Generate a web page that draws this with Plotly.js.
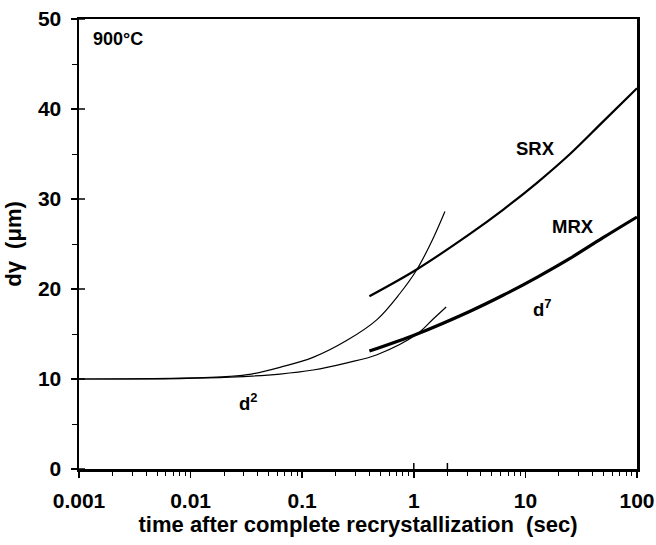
<!DOCTYPE html>
<html>
<head>
<meta charset="utf-8">
<script src="https://cdn.plot.ly/plotly-3.0.1.min.js"></script>
<style>html,body{margin:0;padding:0;background:#fff;}#chart{width:656px;height:545px;}</style>
</head>
<body>
<div id="chart"></div>
<script>
// Tick labels
const xTickVals = [0.001, 0.01, 0.1, 1, 10, 100];
const xTickText = ['0.001', '0.01', '0.1', '1', '10', '100'];
const yTickVals = [0, 10, 20, 30, 40, 50];

// d^2 growth curve (thin, upper)
const tD2 = [0.001, 0.008, 0.0225, 0.035, 0.0632, 0.125, 0.252, 0.468, 0.75, 1.07, 1.5, 1.9];
const dD2 = [10.0, 10.1, 10.3, 10.55, 11.3, 12.4, 14.3, 16.6, 19.5, 22.2, 25.7, 28.6];

// d^7 growth curve (thin, lower)
const tD7 = [0.001, 0.008, 0.0225, 0.0632, 0.125, 0.252, 0.468, 1.07, 1.5, 1.95];
const dD7 = [10.0, 10.05, 10.2, 10.55, 11.0, 11.8, 12.7, 15.0, 16.7, 18.0];

// SRX curve
const tSRX = [0.40, 1.07, 3.16, 6.3, 12.7, 25.1, 49.6, 100];
const dSRX = [19.2, 22.2, 26.1, 28.8, 31.8, 35.0, 38.6, 42.3];

// MRX curve
const tMRX = [0.40, 1.07, 3.16, 6.3, 12.7, 25.1, 49.6, 100];
const dMRX = [13.1, 15.0, 17.5, 19.3, 21.3, 23.4, 25.7, 28.0];

const FONT = '"Liberation Sans", Arial, Helvetica, sans-serif';

const traces = [
  {x: tD2, y: dD2, mode: 'lines', line: {color: '#000', width: 1.2, shape: 'spline', smoothing: 1}, hoverinfo: 'skip'},
  {x: tD7, y: dD7, mode: 'lines', line: {color: '#000', width: 1.2, shape: 'spline', smoothing: 1}, hoverinfo: 'skip'},
  {x: tSRX, y: dSRX, mode: 'lines', line: {color: '#000', width: 2.2, shape: 'spline', smoothing: 1}, hoverinfo: 'skip'},
  {x: tMRX, y: dMRX, mode: 'lines', line: {color: '#000', width: 3.2, shape: 'spline', smoothing: 1}, hoverinfo: 'skip'}
];

const annFont = {family: FONT, size: 18.5, color: '#000', weight: 'bold'};

// inner halves of the major ticks (ticks cross the axis line)
const PLOT_W = 656 - 79 - 19, PLOT_H = 545 - 19 - 76, TICK_IN = 6;
const shapes = [];
xTickVals.forEach(v => shapes.push({type: 'line', xref: 'x', yref: 'paper', x0: Math.log10(v), x1: Math.log10(v), y0: 0, y1: TICK_IN / PLOT_H, line: {color: '#000', width: 1.5}}));
yTickVals.forEach(v => shapes.push({type: 'line', xref: 'paper', yref: 'y', x0: 0, x1: TICK_IN / PLOT_W, y0: v, y1: v, line: {color: '#000', width: 1.5}}));

const layout = {
  width: 656, height: 545,
  margin: {l: 79, r: 19, t: 19, b: 76},
  paper_bgcolor: '#fff', plot_bgcolor: '#fff',
  showlegend: false,
  font: {family: FONT, color: '#000', weight: 'bold'},
  xaxis: {
    type: 'log', range: [-3, 2],
    tickvals: xTickVals, ticktext: xTickText,
    ticks: 'outside', ticklen: 6, tickwidth: 1.5, tickcolor: '#000',
    minor: {ticks: 'outside', ticklen: 4, tickwidth: 1, tickcolor: '#000', dtick: 'D1', showgrid: false},
    showline: true, linewidth: 2.5, linecolor: '#000', mirror: true,
    showgrid: false, zeroline: false,
    tickfont: {family: FONT, size: 21, color: '#000', weight: 'bold'},
    ticklabelstandoff: 5,
    title: {text: 'time after complete recrystallization\u00a0\u00a0(sec)', font: {family: FONT, size: 22, color: '#000', weight: 'bold'}, standoff: 2}
  },
  yaxis: {
    range: [0, 50],
    tickvals: yTickVals,
    ticks: 'outside', ticklen: 6, tickwidth: 1.5, tickcolor: '#000',
    minor: {ticks: 'outside', ticklen: 5, tickwidth: 1, tickcolor: '#000', dtick: 5, showgrid: false},
    showline: true, linewidth: 2.5, linecolor: '#000', mirror: true,
    showgrid: false, zeroline: false,
    tickfont: {family: FONT, size: 21, color: '#000', weight: 'bold'},
    ticklabelstandoff: 5,
    title: {text: 'd\u03b3\u00a0\u00a0(\u03bcm)', font: {family: FONT, size: 22, color: '#000', weight: 'bold'}, standoff: 10}
  },
  shapes: shapes,
  annotations: [
    {x: Math.log10(0.00128), y: 47.8, xref: 'x', yref: 'y', text: '900°C', showarrow: false, xanchor: 'left', font: {family: FONT, size: 18, color: '#000', weight: 'bold'}},
    {x: Math.log10(12.2), y: 35.6, xref: 'x', yref: 'y', text: 'SRX', showarrow: false, font: annFont},
    {x: Math.log10(26.7), y: 27.0, xref: 'x', yref: 'y', text: 'MRX', showarrow: false, font: annFont},
    {x: Math.log10(0.0327), y: 7.44, xref: 'x', yref: 'y', text: 'd<sup>2</sup>', showarrow: false, font: annFont},
    {x: Math.log10(14.1), y: 17.9, xref: 'x', yref: 'y', text: 'd<sup>7</sup>', showarrow: false, font: annFont}
  ]
};

Plotly.newPlot('chart', traces, layout, {staticPlot: true, displayModeBar: false});
</script>
</body>
</html>
